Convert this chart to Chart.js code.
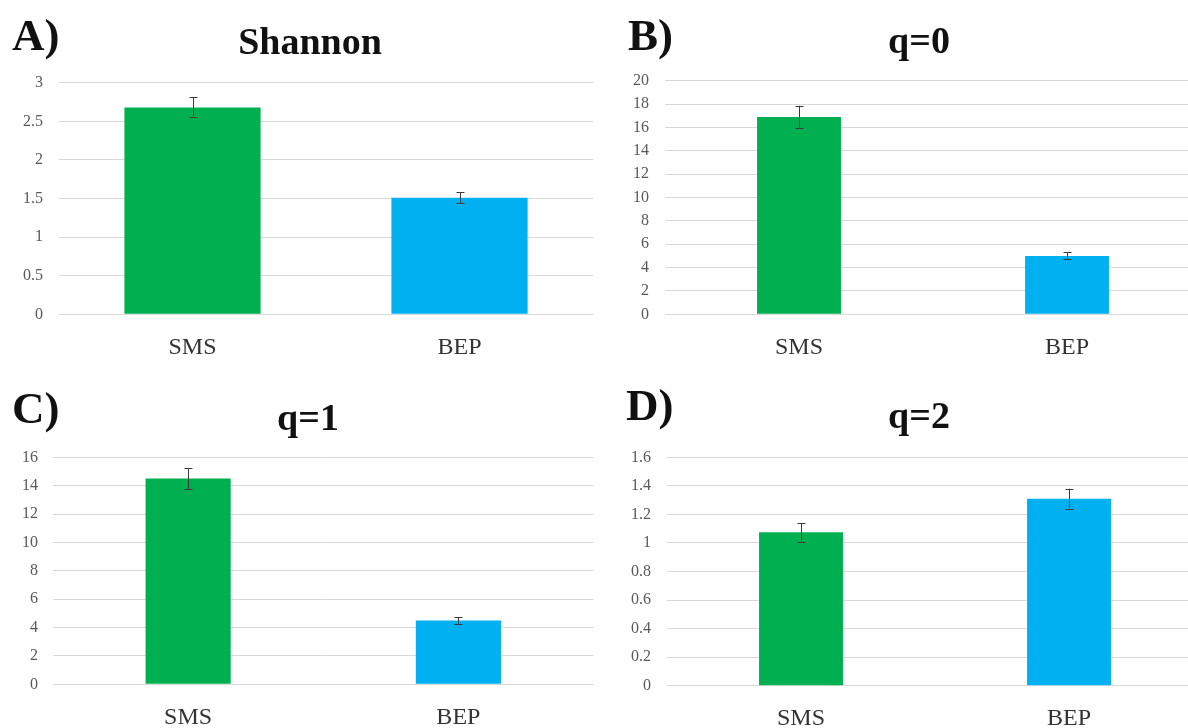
<!DOCTYPE html>
<html>
<head>
<meta charset="utf-8">
<script src="https://cdn.jsdelivr.net/npm/chart.js@4.4.1/dist/chart.umd.min.js"></script>
<style>
  html, body { margin: 0; padding: 0; background: #fff; overflow: hidden; }
  #page { position: relative; width: 1188px; height: 728px; overflow: hidden; background: #fff; }
  .panel { position: absolute; }
</style>
</head>
<body>
<div id="page">
  <div class="panel" style="left:0px;top:0px;width:600px;height:370px"><canvas id="chartA" width="600" height="370"></canvas></div>
  <div class="panel" style="left:590px;top:0px;width:620px;height:370px"><canvas id="chartB" width="620" height="370"></canvas></div>
  <div class="panel" style="left:0px;top:370px;width:600px;height:358px"><canvas id="chartC" width="600" height="358"></canvas></div>
  <div class="panel" style="left:590px;top:370px;width:620px;height:358px"><canvas id="chartD" width="620" height="358"></canvas></div>
</div>
<script>
// data
const categories = ['SMS', 'BEP'];
const barColors = ['#00B050', '#00B0F0'];

const shannonValues = [2.68, 1.51];
const shannonErrors = [0.13, 0.07];

const q0Values = [16.9, 5.0];
const q0Errors = [0.95, 0.3];

const q1Values = [14.5, 4.5];
const q1Errors = [0.75, 0.23];

const q2Values = [1.075, 1.31];
const q2Errors = [0.065, 0.07];

const SERIF = '"Liberation Serif", "Times New Roman", serif';

// error bars + panel letter + title
const extrasPlugin = {
    id: 'extras',
    afterDatasetsDraw(chart, args, opts) {
        const ctx = chart.ctx;
        const meta = chart.getDatasetMeta(0);
        const yScale = chart.scales.y;
        ctx.save();
        ctx.strokeStyle = '#3a3a3a';
        ctx.lineWidth = 1;
        meta.data.forEach((bar, i) => {
            const v = chart.data.datasets[0].data[i];
            const e = opts.errors[i];
            const x = Math.round(bar.x) + 0.5;
            const yTop = yScale.getPixelForValue(v + e);
            const yBot = yScale.getPixelForValue(v - e);
            ctx.beginPath();
            ctx.moveTo(x, yTop);
            ctx.lineTo(x, yBot);
            ctx.moveTo(x - 4, Math.round(yTop) + 0.5);
            ctx.lineTo(x + 4, Math.round(yTop) + 0.5);
            ctx.moveTo(x - 4, Math.round(yBot) + 0.5);
            ctx.lineTo(x + 4, Math.round(yBot) + 0.5);
            ctx.stroke();
        });
        ctx.restore();
    },
    afterDraw(chart, args, opts) {
        const ctx = chart.ctx;
        ctx.save();
        ctx.fillStyle = '#111';
        ctx.textBaseline = 'alphabetic';
        ctx.font = 'bold 45px ' + SERIF;
        ctx.textAlign = 'left';
        ctx.fillText(opts.letter, opts.letterX, opts.letterY);
        ctx.font = 'bold 38px ' + SERIF;
        ctx.textAlign = 'center';
        ctx.fillText(opts.title, opts.titleX, opts.titleY);
        ctx.restore();
    }
};

function makePanel(id, values, errors, p) {
    return new Chart(document.getElementById(id), {
        type: 'bar',
        data: {
            labels: categories,
            datasets: [{
                data: values,
                backgroundColor: barColors,
                borderWidth: 0,
                barPercentage: p.barPct,
                categoryPercentage: 1
            }]
        },
        options: {
            responsive: false,
            animation: false,
            events: [],
            layout: { padding: { top: p.top, right: p.right, left: 0, bottom: 0 } },
            plugins: {
                legend: { display: false },
                tooltip: { enabled: false },
                extras: {
                    errors: errors,
                    letter: p.letter, letterX: p.letterX, letterY: p.letterY,
                    title: p.title, titleX: p.titleX, titleY: p.titleY
                }
            },
            scales: {
                x: {
                    grid: { display: false, drawTicks: false, tickLength: 0 },
                    border: { display: false },
                    ticks: {
                        padding: p.xPad,
                        color: '#333',
                        font: { family: SERIF, size: 24 }
                    },
                    afterFit: s => { s.height = p.xHeight; }
                },
                y: {
                    min: 0,
                    max: p.max,
                    grid: { color: '#d9d9d9', lineWidth: 1, drawTicks: false, tickLength: 0 },
                    border: { display: false },
                    ticks: {
                        stepSize: p.step,
                        padding: p.yPad,
                        color: '#595959',
                        font: { family: SERIF, size: 16 },
                        callback: v => String(+v.toFixed(2))
                    },
                    afterFit: s => { s.width = p.yWidth; }
                }
            }
        },
        plugins: [extrasPlugin]
    });
}

makePanel('chartA', shannonValues, shannonErrors, {
    max: 3, step: 0.5, barPct: 0.51,
    top: 82.7, right: 7, yWidth: 59, yPad: 16, xHeight: 55.7, xPad: 19,
    letter: 'A)', letterX: 12, letterY: 50,
    title: 'Shannon', titleX: 310, titleY: 54
});

makePanel('chartB', q0Values, q0Errors, {
    max: 20, step: 2, barPct: 0.313,
    top: 80.7, right: 9, yWidth: 75, yPad: 16, xHeight: 55.7, xPad: 19,
    letter: 'B)', letterX: 38, letterY: 50,
    title: 'q=0', titleX: 329, titleY: 53
});

makePanel('chartC', q1Values, q1Errors, {
    max: 16, step: 2, barPct: 0.315,
    top: 87.3, right: 6.5, yWidth: 53, yPad: 15, xHeight: 43.7, xPad: 19,
    letter: 'C)', letterX: 12, letterY: 53,
    title: 'q=1', titleX: 308, titleY: 60
});

makePanel('chartD', q2Values, q2Errors, {
    max: 1.6, step: 0.2, barPct: 0.313,
    top: 87.3, right: 7, yWidth: 77, yPad: 16, xHeight: 42.3, xPad: 19,
    letter: 'D)', letterX: 36, letterY: 50,
    title: 'q=2', titleX: 329, titleY: 58
});
</script>
</body>
</html>
